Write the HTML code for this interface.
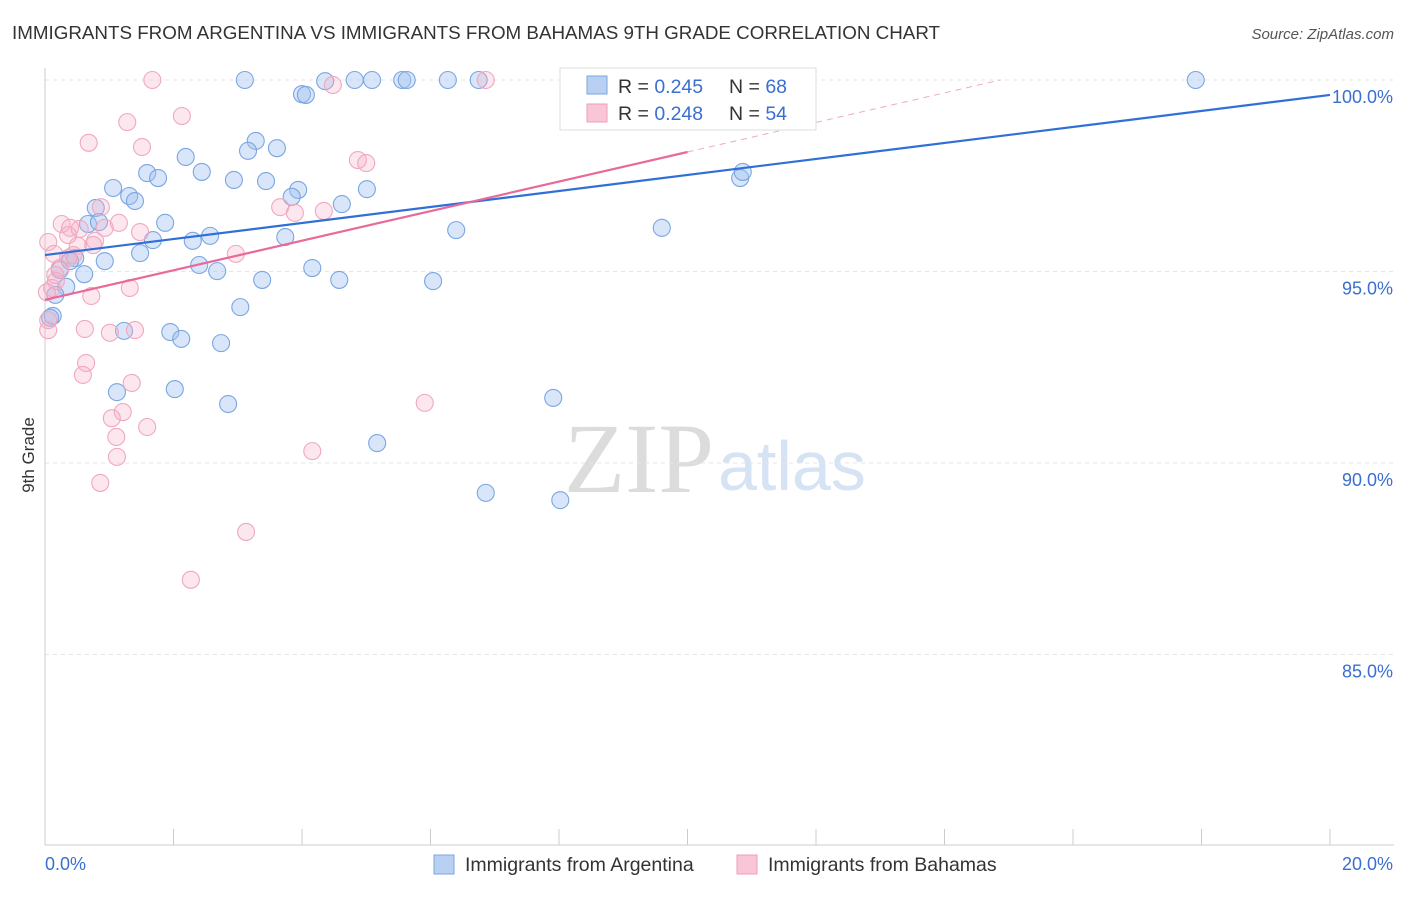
<!DOCTYPE html>
<html><head><meta charset="utf-8"><style>
body{margin:0;background:#fff;font-family:"Liberation Sans",sans-serif}
svg text{font-family:"Liberation Sans",sans-serif}
</style></head><body>
<svg id="c" width="1406" height="892" xmlns="http://www.w3.org/2000/svg">
<text x="12" y="39" font-size="18.8" fill="#333">IMMIGRANTS FROM ARGENTINA VS IMMIGRANTS FROM BAHAMAS 9TH GRADE CORRELATION CHART</text>
<text x="1394" y="39" font-size="15" fill="#555" font-style="italic" text-anchor="end">Source: ZipAtlas.com</text>
<text x="714" y="492" font-size="100" fill="#dcdcdc" style="font-family:'Liberation Serif',serif" text-anchor="end">ZIP</text>
<text x="718" y="490" font-size="70" fill="#d5e3f5">atlas</text>
<text transform="translate(34,455) rotate(-90)" font-size="17" fill="#333" text-anchor="middle">9th Grade</text>
<g id="grid"></g><g id="axes"></g><g id="pts"></g><g id="lines"></g>
<g>
<rect x="560" y="68" width="256" height="62" fill="#fff" stroke="#ddd"/>
<rect x="587" y="76" width="20" height="18" fill="#b8d0f2" stroke="#7aa6e2"/>
<text x="618" y="93" font-size="19.5" fill="#333">R = <tspan fill="#3a6fd0">0.245</tspan></text>
<text x="729" y="93" font-size="19.5" fill="#333">N = <tspan fill="#3a6fd0">68</tspan></text>
<rect x="587" y="104" width="20" height="18" fill="#f8c6d6" stroke="#ee9fb9"/>
<text x="618" y="120" font-size="19.5" fill="#333">R = <tspan fill="#3a6fd0">0.248</tspan></text>
<text x="729" y="120" font-size="19.5" fill="#333">N = <tspan fill="#3a6fd0">54</tspan></text>
</g>
<g>
<rect x="434" y="855" width="20" height="19" fill="#b8d0f2" stroke="#7aa6e2"/>
<text x="465" y="871" font-size="19.5" fill="#333">Immigrants from Argentina</text>
<rect x="737" y="855" width="20" height="19" fill="#f8c6d6" stroke="#ee9fb9"/>
<text x="768" y="871" font-size="19.5" fill="#333">Immigrants from Bahamas</text>
</g>
</svg>
<script>
const yTicks=[100,95,90,85];
const yTickLabels=["100.0%","95.0%","90.0%","85.0%"];
const xTicks=[0,2,4,6,8,10,12,14,16,18,20];
const xEndLabels=["0.0%","20.0%"];
const argX=[3.11,4.36,4.82,5.09,5.56,5.63,6.27,6.75,8.17,17.91,4.00,4.06,3.28,3.16,3.61,2.19,1.59,1.76,2.44,2.94,3.44,1.06,1.31,1.40,3.94,3.84,5.01,4.62,0.79,0.67,0.84,1.87,2.57,1.68,2.30,3.74,6.40,9.60,10.82,10.86,1.48,0.93,0.47,0.39,0.23,0.61,2.40,2.68,3.38,4.16,4.58,6.04,0.33,0.16,3.04,0.12,0.08,1.23,1.95,2.12,2.74,1.12,2.02,2.85,7.91,5.17,6.86,8.02];
const argY=[100,99.97,100,100,100,100,100,100,100,100,99.63,99.61,98.41,98.15,98.22,97.99,97.57,97.44,97.60,97.39,97.36,97.18,96.97,96.84,97.13,96.95,97.15,96.76,96.66,96.24,96.29,96.27,95.93,95.82,95.80,95.90,96.08,96.14,97.44,97.60,95.48,95.27,95.35,95.27,95.04,94.93,95.17,95.01,94.78,95.09,94.78,94.75,94.60,94.39,94.07,93.84,93.79,93.45,93.42,93.24,93.13,91.85,91.93,91.54,91.70,90.52,89.22,89.03];
const bahX=[1.67,4.48,6.86,8.95,2.13,1.28,0.68,1.51,4.87,5.00,3.66,3.89,4.34,0.87,0.26,0.39,0.36,0.54,0.93,1.15,1.48,0.05,0.78,0.75,0.51,0.14,0.44,0.36,0.23,0.17,2.97,0.11,0.72,1.32,0.03,0.05,0.62,1.01,1.40,0.64,0.59,1.35,5.91,1.21,1.04,1.59,1.11,1.12,4.16,0.86,3.13,2.27,0.05,0.16];
const bahY=[100,99.87,100,100,99.06,98.90,98.36,98.25,97.91,97.83,96.68,96.53,96.58,96.68,96.24,96.14,95.95,96.11,96.14,96.27,96.03,95.77,95.80,95.69,95.67,95.46,95.43,95.35,95.09,94.75,95.46,94.57,94.36,94.57,94.46,93.47,93.50,93.40,93.47,92.61,92.30,92.09,91.57,91.33,91.17,90.94,90.68,90.16,90.31,89.48,88.20,86.95,93.73,94.91];
const argTrend=[95.43,99.61];
const bahTrend=[94.26,98.12];
const X=v=>45+v*64.25, Y=v=>80+(100-v)*38.3;
const NS="http://www.w3.org/2000/svg";
function mk(tag,attrs,parent){const e=document.createElementNS(NS,tag);for(const k in attrs)e.setAttribute(k,attrs[k]);document.getElementById(parent).appendChild(e);return e;}
yTicks.forEach((t,i)=>{
 const l=mk('line',{x1:45,x2:1394,y1:Y(t),y2:Y(t),stroke:'#e6e6e6','stroke-dasharray':'4,4'},'grid');
 
 
 const tx=mk('text',{x:1393,y:Y(t)+23,'font-size':18,fill:'#3a6fd0','text-anchor':'end'},'axes');tx.textContent=yTickLabels[i];
 
 
});
const ax=mk('line',{x1:45,x2:45,y1:68,y2:845,stroke:'#ccc'},'axes');


const bx=mk('line',{x1:45,x2:1394,y1:845,y2:845,stroke:'#ccc'},'axes');


xTicks.forEach(t=>{const l=mk('line',{x1:X(t),x2:X(t),y1:829,y2:845,stroke:'#ccc'},'axes');
 
 });
const xl0=mk('text',{x:45,y:870,'font-size':18,fill:'#3a6fd0'},'axes');xl0.textContent=xEndLabels[0];


const xl1=mk('text',{x:1393,y:870,'font-size':18,fill:'#3a6fd0','text-anchor':'end'},'axes');xl1.textContent=xEndLabels[1];


argX.forEach((v,i)=>{const c=mk('circle',{cx:X(v),cy:Y(argY[i]),r:8.5,fill:'rgba(160,192,240,0.4)',stroke:'#7aa6e2','stroke-width':1.1},'pts');
 
 });
bahX.forEach((v,i)=>{const c=mk('circle',{cx:X(v),cy:Y(bahY[i]),r:8.5,fill:'rgba(246,176,200,0.3)',stroke:'#f0a8c0','stroke-width':1.1},'pts');
 
 });
const la=mk('line',{x1:X(0),y1:Y(argTrend[0]),x2:X(20),y2:Y(argTrend[1]),stroke:'#2f6fd6','stroke-width':2.2},'lines');


const lb=mk('line',{x1:X(0),y1:Y(bahTrend[0]),x2:X(10),y2:Y(bahTrend[1]),stroke:'#e8699a','stroke-width':2.2},'lines');


const slope=(bahTrend[1]-bahTrend[0])/10, xe=(100-bahTrend[0])/slope;
const ld=mk('line',{x1:X(10),y1:Y(bahTrend[1]),x2:X(xe),y2:Y(100),stroke:'#eeaac0','stroke-width':1,'stroke-dasharray':'6,5'},'lines');


</script>
</body></html>
